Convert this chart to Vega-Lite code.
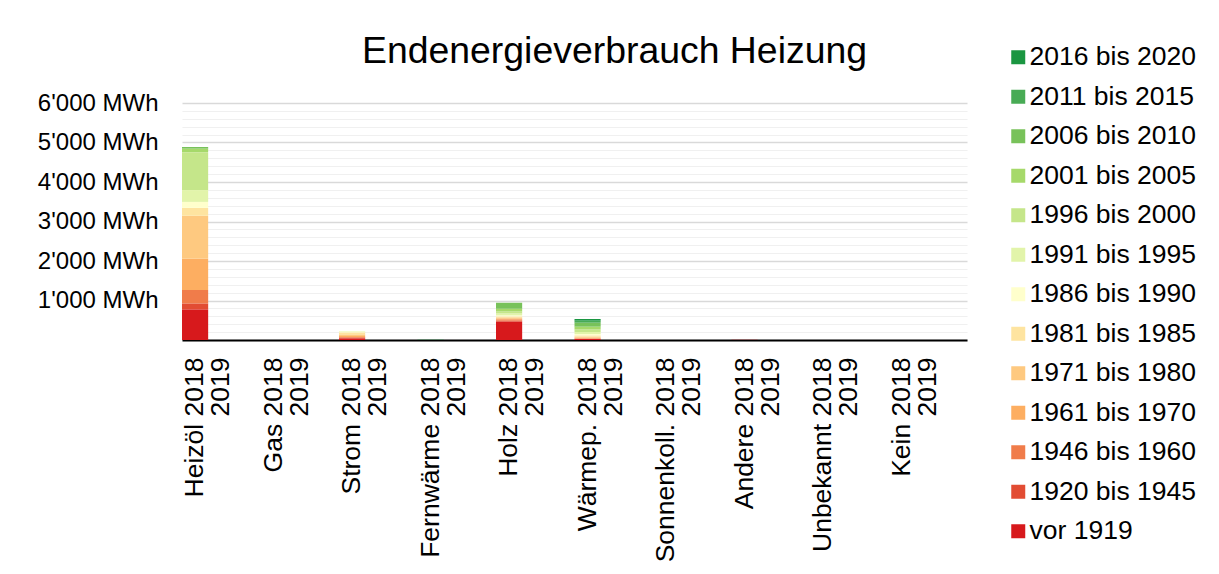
{
  "$schema": "https://vega.github.io/schema/vega-lite/v6.json",
  "autosize": {"type": "none"},
  "width": 785,
  "height": 237,
  "padding": {"left": 182, "top": 103, "right": 252, "bottom": 234},
  "background": "white",
  "config": {"font": "Liberation Sans", "view": {"stroke": null}},
  "title": {"text": "Endenergieverbrauch Heizung", "fontSize": 37.4, "fontWeight": "normal", "color": "#000000", "anchor": "middle", "frame": "group", "dx": 40, "offset": 30, "dy": 86, "baseline": "alphabetic"},
  "data": {"values": [
    {"slot": "Heizöl 2018", "age": "vor 1919", "k": 1, "mwh": 776},
    {"slot": "Heizöl 2018", "age": "1920 bis 1945", "k": 2, "mwh": 150},
    {"slot": "Heizöl 2018", "age": "1946 bis 1960", "k": 3, "mwh": 340},
    {"slot": "Heizöl 2018", "age": "1961 bis 1970", "k": 4, "mwh": 790},
    {"slot": "Heizöl 2018", "age": "1971 bis 1980", "k": 5, "mwh": 1090},
    {"slot": "Heizöl 2018", "age": "1981 bis 1985", "k": 6, "mwh": 200},
    {"slot": "Heizöl 2018", "age": "1986 bis 1990", "k": 7, "mwh": 150},
    {"slot": "Heizöl 2018", "age": "1991 bis 1995", "k": 8, "mwh": 300},
    {"slot": "Heizöl 2018", "age": "1996 bis 2000", "k": 9, "mwh": 960},
    {"slot": "Heizöl 2018", "age": "2001 bis 2005", "k": 10, "mwh": 90},
    {"slot": "Heizöl 2018", "age": "2006 bis 2010", "k": 11, "mwh": 40},
    {"slot": "Strom 2018", "age": "vor 1919", "k": 1, "mwh": 42},
    {"slot": "Strom 2018", "age": "1920 bis 1945", "k": 2, "mwh": 17},
    {"slot": "Strom 2018", "age": "1946 bis 1960", "k": 3, "mwh": 17},
    {"slot": "Strom 2018", "age": "1961 bis 1970", "k": 4, "mwh": 25},
    {"slot": "Strom 2018", "age": "1971 bis 1980", "k": 5, "mwh": 42},
    {"slot": "Strom 2018", "age": "1981 bis 1985", "k": 6, "mwh": 50},
    {"slot": "Strom 2018", "age": "1986 bis 1990", "k": 7, "mwh": 25},
    {"slot": "Strom 2018", "age": "1991 bis 1995", "k": 8, "mwh": 8},
    {"slot": "Fernwärme 2018", "age": "2011 bis 2015", "k": 12, "mwh": 3},
    {"slot": "Fernwärme 2018", "age": "2016 bis 2020", "k": 13, "mwh": 5},
    {"slot": "Holz 2018", "age": "vor 1919", "k": 1, "mwh": 464},
    {"slot": "Holz 2018", "age": "1920 bis 1945", "k": 2, "mwh": 25},
    {"slot": "Holz 2018", "age": "1946 bis 1960", "k": 3, "mwh": 34},
    {"slot": "Holz 2018", "age": "1961 bis 1970", "k": 4, "mwh": 25},
    {"slot": "Holz 2018", "age": "1971 bis 1980", "k": 5, "mwh": 25},
    {"slot": "Holz 2018", "age": "1981 bis 1985", "k": 6, "mwh": 25},
    {"slot": "Holz 2018", "age": "1986 bis 1990", "k": 7, "mwh": 25},
    {"slot": "Holz 2018", "age": "1991 bis 1995", "k": 8, "mwh": 50},
    {"slot": "Holz 2018", "age": "1996 bis 2000", "k": 9, "mwh": 50},
    {"slot": "Holz 2018", "age": "2001 bis 2005", "k": 10, "mwh": 68},
    {"slot": "Holz 2018", "age": "2006 bis 2010", "k": 11, "mwh": 152},
    {"slot": "Wärmep. 2018", "age": "vor 1919", "k": 1, "mwh": 25},
    {"slot": "Wärmep. 2018", "age": "1920 bis 1945", "k": 2, "mwh": 8},
    {"slot": "Wärmep. 2018", "age": "1946 bis 1960", "k": 3, "mwh": 8},
    {"slot": "Wärmep. 2018", "age": "1961 bis 1970", "k": 4, "mwh": 17},
    {"slot": "Wärmep. 2018", "age": "1971 bis 1980", "k": 5, "mwh": 25},
    {"slot": "Wärmep. 2018", "age": "1981 bis 1985", "k": 6, "mwh": 34},
    {"slot": "Wärmep. 2018", "age": "1986 bis 1990", "k": 7, "mwh": 34},
    {"slot": "Wärmep. 2018", "age": "1991 bis 1995", "k": 8, "mwh": 51},
    {"slot": "Wärmep. 2018", "age": "1996 bis 2000", "k": 9, "mwh": 68},
    {"slot": "Wärmep. 2018", "age": "2001 bis 2005", "k": 10, "mwh": 68},
    {"slot": "Wärmep. 2018", "age": "2006 bis 2010", "k": 11, "mwh": 101},
    {"slot": "Wärmep. 2018", "age": "2011 bis 2015", "k": 12, "mwh": 51},
    {"slot": "Wärmep. 2018", "age": "2016 bis 2020", "k": 13, "mwh": 42},
    {"slot": "Andere 2018", "age": "vor 1919", "k": 1, "mwh": 5}
  ]},
  "mark": {"type": "bar"},
  "encoding": {
    "x": {
      "field": "slot", "type": "nominal", "sort": null,
      "scale": {"domain": ["Heizöl 2018","Heizöl 2019","Heizöl ~","Gas 2018","Gas 2019","Gas ~","Strom 2018","Strom 2019","Strom ~","Fernwärme 2018","Fernwärme 2019","Fernwärme ~","Holz 2018","Holz 2019","Holz ~","Wärmep. 2018","Wärmep. 2019","Wärmep. ~","Sonnenkoll. 2018","Sonnenkoll. 2019","Sonnenkoll. ~","Andere 2018","Andere 2019","Andere ~","Unbekannt 2018","Unbekannt 2019","Unbekannt ~","Kein 2018","Kein 2019","Kein ~"], "paddingInner": 0, "paddingOuter": 0},
      "axis": {
        "title": null, "ticks": false, "domainColor": "#000000", "domainWidth": 2,
        "labelAngle": 270, "labelAlign": "right", "labelBaseline": "middle",
        "labelFontSize": 26.5, "labelColor": "#000000", "labelPadding": 17,
        "labelOverlap": false, "labelBound": false, "labelFlush": false, "labelLimit": 400,
        "labelExpr": "indexof(datum.value,'~')>=0 ? '' : (indexof(datum.value,'2019')>=0 ? '2019' : datum.value)"
      }
    },
    "y": {
      "field": "mwh", "type": "quantitative", "stack": "zero",
      "scale": {"domain": [0, 6000], "nice": false},
      "axis": {
        "title": null, "domain": false, "ticks": false,
        "values": [0,200,400,600,800,1000,1200,1400,1600,1800,2000,2200,2400,2600,2800,3000,3200,3400,3600,3800,4000,4200,4400,4600,4800,5000,5200,5400,5600,5800,6000],
        "gridColor": {"condition": {"test": "datum.value % 1000 === 0", "value": "#d9d9d9"}, "value": "#f0f0f0"},
        "gridWidth": {"condition": {"test": "datum.value % 1000 === 0", "value": 1.5}, "value": 1.2},
        "labelFontSize": 24, "labelColor": "#000000", "labelPadding": 24, "labelOverlap": false,
        "labelExpr": "datum.value % 1000 === 0 && datum.value > 0 ? replace(format(datum.value, ','), ',', \"'\") + ' MWh' : ''"
      }
    },
    "color": {
      "field": "age", "type": "nominal",
      "scale": {
        "domain": ["2016 bis 2020","2011 bis 2015","2006 bis 2010","2001 bis 2005","1996 bis 2000","1991 bis 1995","1986 bis 1990","1981 bis 1985","1971 bis 1980","1961 bis 1970","1946 bis 1960","1920 bis 1945","vor 1919"],
        "range": ["#1a9641","#48ab55","#78c25a","#a6d96a","#c5e68a","#e2f4aa","#ffffcc","#fee4a0","#fec980","#fdae61","#f07c4a","#e24c33","#d7191c"]
      },
      "legend": {
        "title": null, "orient": "none", "legendX": 823, "legendY": -59, "padding": 0,
        "symbolType": "square", "symbolSize": 196, "symbolStrokeWidth": 0, "symbolOpacity": 1,
        "labelFontSize": 26.5, "labelColor": "#000000", "labelOffset": -2, "rowPadding": 12.5, "labelLimit": 300
      }
    },
    "order": {"field": "k", "type": "quantitative", "sort": "ascending"}
  }
}
